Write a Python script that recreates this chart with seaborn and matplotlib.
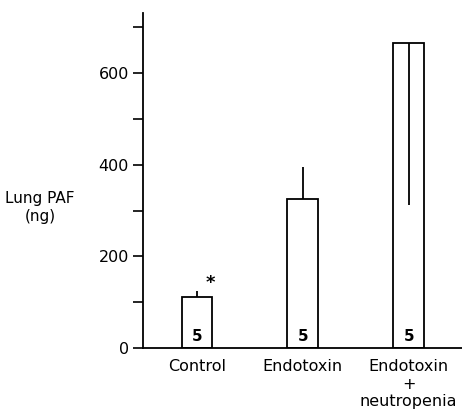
import matplotlib
matplotlib.use("Agg")
import matplotlib.pyplot as plt
import seaborn as sns
import pandas as pd
from matplotlib.ticker import MultipleLocator

categories = ["Control", "Endotoxin", "Endotoxin\n+\nneutropenia"]
values = [111, 325, 665]
err_up = [14, 70, 0]
err_down = [0, 0, 353]
n_labels = ["5", "5", "5"]

sns.set_theme(style="ticks")
plt.rcParams['font.family'] = ['DejaVu Sans']
plt.rcParams['text.color'] = 'black'
plt.rcParams['xtick.color'] = 'black'
plt.rcParams['ytick.color'] = 'black'
plt.rcParams['axes.labelcolor'] = 'black'

fig = plt.figure(figsize=(4.62, 4.11), dpi=100)
ax = fig.add_axes([0.3095, 0.1533, 0.6905, 0.8150])

df = pd.DataFrame({"group": categories, "value": values})
sns.barplot(data=df, x="group", y="value", ax=ax, color="white",
            edgecolor="black", linewidth=1.3, width=0.29, errorbar=None)

xs = list(range(len(categories)))
ax.errorbar(xs, values, yerr=[err_down, err_up], fmt="none",
            ecolor="black", elinewidth=1.3, capsize=0)

for x, lab in zip(xs, n_labels):
    ax.text(x, 26, lab, ha="center", va="center", fontsize=11,
            fontweight="bold", color="black")

ax.text(0.13, 142, "*", ha="center", va="center", fontsize=13,
        fontweight="bold", color="black")

ax.set_xlim(-0.51, 2.504)
ax.set_ylim(0, 731)
ax.yaxis.set_major_locator(MultipleLocator(200))
ax.yaxis.set_minor_locator(MultipleLocator(100))
ax.tick_params(axis="y", which="both", length=7, width=1.2, color="black",
               labelcolor="black", labelsize=11.5, pad=3)
ax.tick_params(axis="x", length=0, labelsize=11.5, pad=8, labelcolor="black")

sns.despine(ax=ax)
for s in ["left", "bottom"]:
    ax.spines[s].set_linewidth(1.3)
    ax.spines[s].set_color("black")

ax.set_xlabel("")
ax.set_ylabel("Lung PAF\n(ng)", rotation=0, fontsize=11, ha="center",
              va="center", color="black")
ax.yaxis.set_label_coords(-0.323, 0.42)

fig.savefig("out.png", dpi=100)
